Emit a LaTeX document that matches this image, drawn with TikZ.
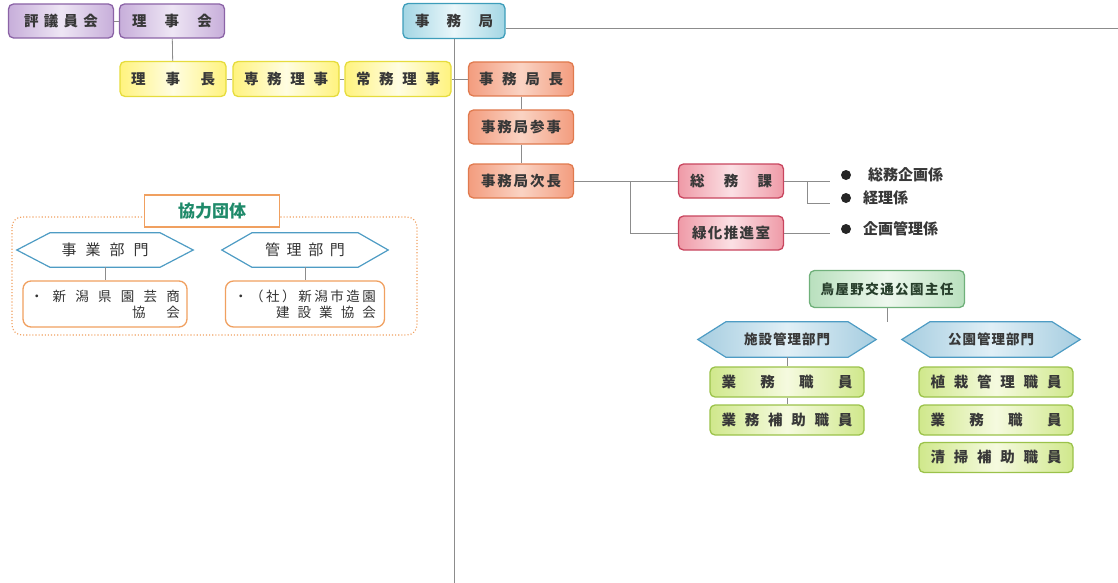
\documentclass[tikz,border=0pt]{standalone}
\usepackage{fontspec}
\setmainfont{Noto Sans CJK JP}
\usetikzlibrary{backgrounds}
\newcommand\spr[2]{\makebox[#1pt][s]{#2}}
\newcommand\hexa[3]{%
  \path[#3] (#1.west) -- ([xshift=#2pt]#1.north west) -- ([xshift=-#2pt]#1.north east)
    -- (#1.east) -- ([xshift=-#2pt]#1.south east) -- ([xshift=#2pt]#1.south west) -- cycle;}
\definecolor{purBd}{HTML}{8B63A6}\definecolor{purFl}{HTML}{C7AEDA}\definecolor{purMd}{HTML}{EEE6F4}
\definecolor{yelBd}{HTML}{E6DC3C}\definecolor{yelFl}{HTML}{FFF37E}\definecolor{yelMd}{HTML}{FFFDE2}
\definecolor{bluBd}{HTML}{3D9DBA}\definecolor{bluFl}{HTML}{A3D6E4}\definecolor{bluMd}{HTML}{EAF7FA}
\definecolor{salBd}{HTML}{E07A4E}\definecolor{salFl}{HTML}{F39C7E}\definecolor{salMd}{HTML}{FAD3C3}
\definecolor{pnkBd}{HTML}{C8455E}\definecolor{pnkFl}{HTML}{EF9AA7}\definecolor{pnkMd}{HTML}{FBE0E4}
\definecolor{grnBd}{HTML}{6FB07A}\definecolor{grnFl}{HTML}{B9E0BE}\definecolor{grnMd}{HTML}{EEF8EE}
\definecolor{lgrBd}{HTML}{9BC24A}\definecolor{lgrFl}{HTML}{D0E88C}\definecolor{lgrMd}{HTML}{F5FADF}
\definecolor{hexBd}{HTML}{4E9CC4}\definecolor{hexFl}{HTML}{A6CDE0}\definecolor{hexMd}{HTML}{E0EFF6}
\definecolor{orgBd}{HTML}{F0A060}
\definecolor{tealTx}{HTML}{1F8A6A}
\definecolor{lineC}{HTML}{8C8C8C}
\begin{document}
\begin{tikzpicture}[x=1pt,y=-1pt,
  box/.style={rounded corners=5pt, line width=1.3pt, inner sep=0pt, minimum height=34pt,
    font=\fontsize{14.5}{16}\selectfont\bfseries, text=black!78},
  purp/.style={box, draw=purBd, left color=purFl, right color=purFl, middle color=purMd, minimum width=105pt},
  yelw/.style={box, draw=yelBd, left color=yelFl, right color=yelFl, middle color=yelMd, minimum width=106pt, minimum height=35pt},
  blue/.style={box, draw=bluBd, left color=bluFl, right color=bluFl, middle color=bluMd, minimum width=102pt, minimum height=35pt},
  salm/.style={box, draw=salBd, left color=salFl, right color=salFl, middle color=salMd, minimum width=105pt},
  pink/.style={box, draw=pnkBd, left color=pnkFl, right color=pnkFl, middle color=pnkMd, minimum width=105pt},
  mint/.style={box, draw=grnBd, left color=grnFl, right color=grnFl, middle color=grnMd, text=black!65!grnBd},
  lime/.style={box, draw=lgrBd, left color=lgrFl, right color=lgrFl, middle color=lgrMd, minimum width=154pt, minimum height=30pt},
  hexlbl/.style={inner sep=0pt, minimum height=35pt, minimum width=178pt, font=\fontsize{13.5}{15}\selectfont\bfseries, text=black!78},
  hexfill/.style={draw=hexBd, line width=1.2pt, left color=hexFl, right color=hexFl, middle color=hexMd},
  hexlbl2/.style={inner sep=0pt, minimum height=34pt, font=\fontsize{15}{17}\selectfont, text=black!80},
  hexline/.style={draw=hexBd, line width=1.2pt, fill=white},
  obox/.style={draw=orgBd, line width=1.3pt, rounded corners=8pt, fill=white, inner sep=0pt,
    minimum height=46pt, font=\fontsize{13.5}{16}\selectfont, text=black!80, align=center},
  conn/.style={draw=lineC, line width=0.8pt},
  bullet/.style={circle, fill=black!85, inner sep=0pt, minimum size=10pt},
  sublbl/.style={anchor=west, inner sep=0pt, font=\fontsize{15}{17}\selectfont\bfseries, text=black!78}
]
\useasboundingbox (0,0) rectangle (1118,583);

% top row
\node[purp] (hyogi) at (61,21) {\spr{74}{評\hfill 議\hfill 員\hfill 会}};
\node[purp] (rijikai) at (172,21) {\spr{80}{理\hfill 事\hfill 会}};
\node[blue] (jimu) at (454,21) {\spr{78}{事\hfill 務\hfill 局}};
\draw[conn] (hyogi) -- (rijikai);
\coordinate (topEnd) at (1118,28);
\draw[conn] (jimu.east |- topEnd) -- (topEnd);
\coordinate (vBot) at (454,583);
\draw[conn] (jimu.south) -- (vBot);

% second row
\node[yelw] (richo) at (173,79) {\spr{84}{理\hfill 事\hfill 長}};
\node[yelw] (senmu) at (286,79) {\spr{84}{専\hfill 務\hfill 理\hfill 事}};
\node[yelw] (jomu) at (398,79) {\spr{84}{常\hfill 務\hfill 理\hfill 事}};
\node[salm] (kyokucho) at (521,79) {\spr{84}{事\hfill 務\hfill 局\hfill 長}};
\draw[conn] (rijikai) -- (richo);
\draw[conn] (richo) -- (senmu);
\draw[conn] (senmu) -- (jomu);
\draw[conn] (jomu) -- (kyokucho);

\node[salm] (sanji) at (521,127) {\spr{80}{事\hfill 務\hfill 局\hfill 参\hfill 事}};
\node[salm] (jicho) at (521,181) {\spr{80}{事\hfill 務\hfill 局\hfill 次\hfill 長}};
\draw[conn] (kyokucho) -- (sanji);
\draw[conn] (sanji) -- (jicho);

\node[pink] (somu) at (731,181) {\spr{82}{総\hfill 務\hfill 課}};
\node[pink] (ryoku) at (731,233) {\spr{78}{緑\hfill 化\hfill 推\hfill 進\hfill 室}};
\draw[conn] (jicho) -- (somu);
\coordinate (br1) at (630,181);
\draw[conn] (br1) |- (ryoku.west);

\coordinate (e1) at (830,181);
\coordinate (br2) at (807,181);
\coordinate (e2) at (830,203);
\coordinate (e3) at (830,233);
\draw[conn] (somu.east) -- (e1);
\draw[conn] (br2) |- (e2);
\draw[conn] (ryoku.east) -- (e3);
\node[bullet] (b1) at (846,175) {};
\node[bullet] (b2) at (846,198) {};
\node[bullet] (b3) at (846,229) {};
\node[sublbl] (l1) at (868,175) {総務企画係};
\node[sublbl] (l2) at (863,198) {経理係};
\node[sublbl] (l3) at (863,229) {企画管理係};

% park group
\node[mint, minimum width=155pt, minimum height=37pt, font=\fontsize{13.5}{15}\selectfont\bfseries] (shunin) at (887,289)
  {\spr{133}{鳥\hfill 屋\hfill 野\hfill 交\hfill 通\hfill 公\hfill 園\hfill 主\hfill 任}};
\node[hexlbl] (hexA) at (787,339.5) {\spr{86}{施\hfill 設\hfill 管\hfill 理\hfill 部\hfill 門}};
\node[hexlbl] (hexB) at (991,339.5) {\spr{86}{公\hfill 園\hfill 管\hfill 理\hfill 部\hfill 門}};
\begin{scope}[on background layer]
  \hexa{hexA}{28}{hexfill}
  \hexa{hexB}{28}{hexfill}
\end{scope}
\coordinate (j1) at (887,322);
\draw[conn] (shunin.south) -- (j1);

\node[lime] (gA1) at (787,382) {\spr{131}{業\hfill 務\hfill 職\hfill 員}};
\node[lime] (gA2) at (787,420) {\spr{131}{業\hfill 務\hfill 補\hfill 助\hfill 職\hfill 員}};
\draw[conn] (hexA.south) -- (gA1);
\draw[conn] (gA1) -- (gA2);
\node[lime] (gB1) at (996,382) {\spr{131}{植\hfill 栽\hfill 管\hfill 理\hfill 職\hfill 員}};
\node[lime] (gB2) at (996,420) {\spr{131}{業\hfill 務\hfill 職\hfill 員}};
\node[lime] (gB3) at (996,457.5) {\spr{131}{清\hfill 掃\hfill 補\hfill 助\hfill 職\hfill 員}};

% cooperating organisations
\draw[draw=orgBd, line width=1.1pt, dotted, rounded corners=10pt] (12,217) rectangle (417,335);
\node[draw=orgBd, line width=1.3pt, fill=white, minimum width=135pt, minimum height=32pt, inner sep=0pt,
  font=\fontsize{17}{19}\selectfont\bfseries, text=tealTx] (kyoryoku) at (212,211) {協力団体};
\node[hexlbl2, minimum width=176pt] (hx1) at (105,250) {\spr{87}{事\hfill 業\hfill 部\hfill 門}};
\node[hexlbl2, minimum width=166pt] (hx2) at (305,250) {\spr{80}{管\hfill 理\hfill 部\hfill 門}};
\begin{scope}[on background layer]
  \hexa{hx1}{33}{hexline}
  \hexa{hx2}{30}{hexline}
\end{scope}
\node[obox, minimum width=164pt] (ob1) at (105,304)
  {\spr{150}{・\hfill 新\hfill 潟\hfill 県\hfill 園\hfill 芸\hfill 商}\\
   \makebox[150pt][r]{\spr{48}{協\hfill 会}}};
\node[obox, minimum width=159pt] (ob2) at (305,304)
  {\spr{142}{・\hfill （\hfill 社\hfill ）\hfill 新\hfill 潟\hfill 市\hfill 造\hfill 園}\\
   \makebox[142pt][r]{\spr{100}{建\hfill 設\hfill 業\hfill 協\hfill 会}}};
\draw[conn] (hx1.south) -- (ob1.north);
\draw[conn] (hx2.south) -- (ob2.north);
\end{tikzpicture}
\end{document}
